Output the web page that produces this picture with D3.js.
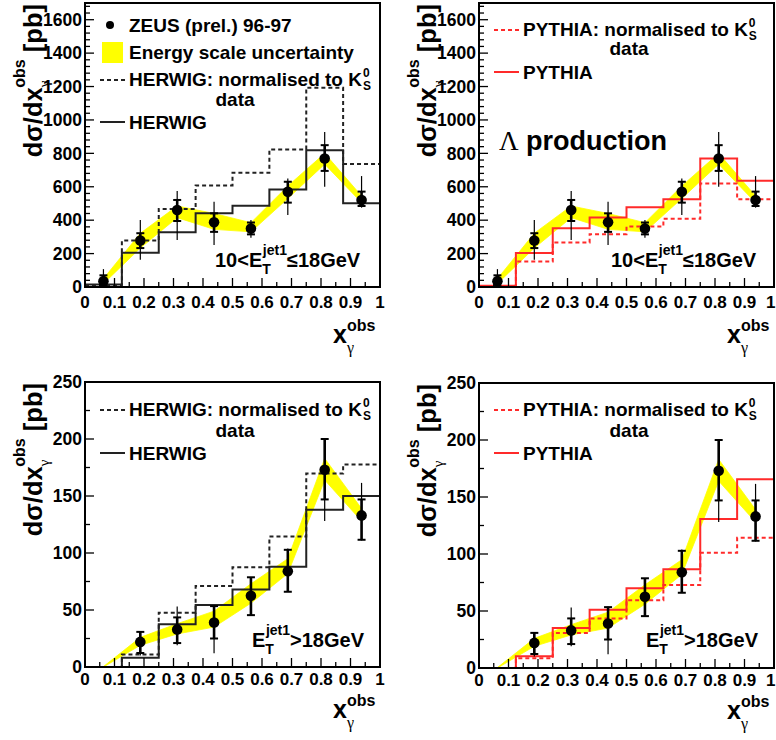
<!DOCTYPE html>
<html><head><meta charset="utf-8">
<script src="https://cdn.jsdelivr.net/npm/d3@7"></script>
<style>
body{margin:0;background:#fff}
text{font-family:"Liberation Sans",Arial,Helvetica,sans-serif;font-weight:bold;fill:#000}
.greek{font-family:"Liberation Serif","DejaVu Serif",serif;font-weight:normal}
</style>
</head><body>
<svg id="c" width="776" height="740" xmlns="http://www.w3.org/2000/svg"></svg>
<script>
// ---------- data ----------
const binEdges = [0, 0.125, 0.25, 0.375, 0.5, 0.625, 0.75, 0.875, 1];
const binCenters = [0.0625, 0.1875, 0.3125, 0.4375, 0.5625, 0.6875, 0.8125, 0.9375];
const xTickValues = [0, 0.1, 0.2, 0.3, 0.4, 0.5, 0.6, 0.7, 0.8, 0.9, 1];
const xTickLabels = ["0", "0.1", "0.2", "0.3", "0.4", "0.5", "0.6", "0.7", "0.8", "0.9", "1"];
const yTicksLowEt = [0, 200, 400, 600, 800, 1000, 1200, 1400, 1600];
const yTicksHighEt = [0, 50, 100, 150, 200, 250];

// 10 < ET(jet1) <= 18 GeV
const zeusLowEt        = [35, 278, 461, 388, 350, 570, 769, 521];
const zeusLowEtStatLo  = [5, 233, 395, 330, 315, 505, 695, 485];
const zeusLowEtStatHi  = [70, 322, 521, 441, 386, 630, 849, 571];
const zeusLowEtTotLo   = [0, 163, 282, 252, 295, 431, 600, 475];
const zeusLowEtTotHi   = [107, 401, 575, 511, 401, 650, 928, 664];
const bandLowEtLo      = [20, 233, 415, 345, 330, 530, 735, 505];
const bandLowEtHi      = [50, 322, 485, 440, 385, 605, 800, 545];
const herwigLowEt      = [15, 205, 328, 441, 487, 584, 819, 501];
const herwigNormLowEt  = [10, 278, 467, 608, 684, 823, 1193, 736];
const pythiaLowEt      = [8, 203, 352, 416, 477, 525, 769, 636];
const pythiaNormLowEt  = [5, 153, 266, 316, 362, 408, 620, 525];

// ET(jet1) > 18 GeV
const zeusHighEt       = [null, 22, 33, 39, 62.5, 84, 173, 133];
const zeusHighEtStatLo = [null, 12.3, 21, 25, 45.5, 66, 147, 111.6];
const zeusHighEtStatHi = [null, 30.8, 43.5, 53.4, 78.7, 102.8, 200, 147];
const zeusHighEtTotLo  = [null, 10, 19, 12, 45.5, 66, 128, 111];
const zeusHighEtTotHi  = [null, 31, 53, 54, 79, 104, 200, 161.5];
const bandHighEtLo     = [0, 19, 29, 35, 56, 82, 164, 128];
const bandHighEtHi     = [0.4, 26, 38, 49, 73, 95, 183, 139];
const herwigHighEt     = [0, 8.2, 37.6, 54.3, 68, 88, 138, 150];
const herwigNormHighEt = [0, 11, 47.6, 71, 87.5, 114.5, 169.7, 177.6];
const pythiaHighEt     = [0, 10.3, 35, 51, 70, 86.7, 130.7, 165.6];
const pythiaNormHighEt = [0, 8.5, 30.8, 43.4, 59.5, 72.7, 101, 114.3];

// ---------- drawing ----------
const svg = d3.select("#c");
svg.append("rect").attr("width", 776).attr("height", 740).attr("fill", "#fff");
const RED = "#ff2a2a", DARK = "#222";

function kLabel(g, x, y, prefix, size) {
  const t = g.append("text").attr("x", x).attr("y", y).style("font-size", size + "px").text(prefix);
  const w = t.node().getComputedTextLength();
  g.append("text").attr("x", x + w + 1).attr("y", y - 9).style("font-size", "12px").text("0");
  g.append("text").attr("x", x + w + 1).attr("y", y + 4).style("font-size", "12px").text("S");
}

function drawPanel(p) {
  const [L, T, R, B] = p.frame;
  const x = d3.scaleLinear().domain([0, 1]).range([L, R]);
  const y = d3.scaleLinear().domain([0, p.yMax]).range([B, T]);
  const g = svg.append("g");
  const clipId = "clip" + p.id;
  g.append("clipPath").attr("id", clipId).append("rect")
    .attr("x", L).attr("y", T).attr("width", R - L).attr("height", B - T);
  const plot = g.append("g").attr("clip-path", `url(#${clipId})`);

  // energy scale band
  const area = d3.area().x((d, i) => x(binCenters[i])).y0((d, i) => y(p.bandLo[i])).y1((d, i) => y(p.bandHi[i]));
  plot.append("path").datum(p.bandLo).attr("d", area).attr("fill", "#ffff00").attr("stroke", "#ffff00").attr("stroke-width", 0.8);

  // histograms
  const histLine = d3.line().x(d => x(d[0])).y(d => y(d[1])).curve(d3.curveStepAfter);
  const histPts = vals => binEdges.map((e, i) => [e, vals[Math.min(i, vals.length - 1)]]);
  plot.append("path").datum(histPts(p.mcNorm)).attr("d", histLine).attr("fill", "none")
    .attr("stroke", p.mcColor).attr("stroke-width", 2).attr("stroke-dasharray", "4,3");
  plot.append("path").datum(histPts(p.mc)).attr("d", histLine).attr("fill", "none")
    .attr("stroke", p.mcColor).attr("stroke-width", 2);

  // data points with errors
  p.data.forEach((v, i) => {
    if (v === null) return;
    const cx = x(binCenters[i]);
    plot.append("line").attr("x1", cx).attr("x2", cx).attr("y1", y(p.totLo[i])).attr("y2", y(p.totHi[i]))
      .attr("stroke", "#000").attr("stroke-width", 1.2);
    plot.append("line").attr("x1", cx).attr("x2", cx).attr("y1", y(p.statLo[i])).attr("y2", y(p.statHi[i]))
      .attr("stroke", "#000").attr("stroke-width", 2.6);
    [p.statLo[i], p.statHi[i]].forEach(s => {
      plot.append("line").attr("x1", cx - 4).attr("x2", cx + 4).attr("y1", y(s)).attr("y2", y(s))
        .attr("stroke", "#000").attr("stroke-width", 2);
    });
    plot.append("circle").attr("cx", cx).attr("cy", y(v)).attr("r", 5.3).attr("fill", "#000");
  });

  // frame
  g.append("rect").attr("x", L).attr("y", T).attr("width", R - L).attr("height", B - T)
    .attr("fill", "none").attr("stroke", "#000").attr("stroke-width", 2);

  // y ticks
  d3.range(0, p.yMax + 1e-6, p.yMinor).forEach(v => {
    const major = p.yTicks.some(t => Math.abs(t - v) < 1e-6);
    g.append("line").attr("x1", L).attr("x2", L + (major ? 9 : 5)).attr("y1", y(v)).attr("y2", y(v))
      .attr("stroke", "#000").attr("stroke-width", 1.3);
  });
  p.yTicks.forEach(v => {
    g.append("text").attr("x", L - 3).attr("y", y(v)).attr("dy", "0.36em").attr("text-anchor", "end")
      .style("font-size", "17.5px").text(v);
  });
  // x ticks
  d3.range(0, 1.0001, 0.05).forEach(v => {
    const major = xTickValues.some(t => Math.abs(t - v) < 1e-6);
    g.append("line").attr("x1", x(v)).attr("x2", x(v)).attr("y1", B).attr("y2", B - (major ? 9 : 5))
      .attr("stroke", "#000").attr("stroke-width", 1.3);
  });
  xTickValues.forEach((v, i) => {
    const t = g.append("text").attr("x", x(v)).attr("y", B + p.xLabelOff).attr("text-anchor", "middle")
      .style("font-size", "17px").text(xTickLabels[i]);
    const bb = t.node().getBBox();
    if (bb.x + bb.width > 775.5) t.attr("x", x(v) - (bb.x + bb.width - 775.5));
  });

  // axis titles
  const xt = g.append("text").attr("x", L + 248).attr("y", B + p.xTitleOff).style("font-size", "25px");
  xt.append("tspan").text("x");
  xt.append("tspan").attr("class", "greek").attr("dy", 10).style("font-size", "16px").text("γ");
  xt.append("tspan").attr("dx", -7).attr("dy", -22).style("font-size", "16px").text("obs");

  const yt = g.append("text").attr("transform", `translate(${L - 43},${T + 1}) rotate(-90)`)
    .attr("text-anchor", "end").style("font-size", "25.5px");
  yt.append("tspan").text("dσ/dx");
  yt.append("tspan").attr("class", "greek").attr("dy", 7).style("font-size", "15px").text("γ");
  yt.append("tspan").attr("dx", -7).attr("dy", -24).style("font-size", "16px").text("obs");
  yt.append("tspan").attr("dy", 17).text(" [pb]");

  // legend
  const lg = g.append("g");
  const lx1 = L + 15, lx2 = L + 40, tx = L + 44;
  if (p.showZeus) {
    lg.append("circle").attr("cx", L + 25).attr("cy", T + 22).attr("r", 4).attr("fill", "#000");
    lg.append("text").attr("x", tx).attr("y", T + 29).style("font-size", "19px").text("ZEUS (prel.) 96-97");
    lg.append("rect").attr("x", L + 17).attr("y", T + 39).attr("width", 21).attr("height", 21).attr("fill", "#ffff00");
    lg.append("text").attr("x", tx).attr("y", T + 56).style("font-size", "19px").text("Energy scale uncertainty");
  }
  const r0 = p.legendTop;
  lg.append("line").attr("x1", lx1).attr("x2", lx2).attr("y1", r0 - 6).attr("y2", r0 - 6)
    .attr("stroke", p.mcColor).attr("stroke-width", 2).attr("stroke-dasharray", "4,3");
  kLabel(lg, tx, r0, p.mcName + ": normalised to K", 19);
  lg.append("text").attr("x", L + 150).attr("y", r0 + p.dataGap).attr("text-anchor", "middle")
    .style("font-size", "19px").text("data");
  lg.append("line").attr("x1", lx1).attr("x2", lx2).attr("y1", r0 + p.solidGap - 7).attr("y2", r0 + p.solidGap - 7)
    .attr("stroke", p.mcColor).attr("stroke-width", 2);
  lg.append("text").attr("x", tx).attr("y", r0 + p.solidGap).style("font-size", "19px").text(p.mcName);

  // ET label
  const et = g.append("text").attr("x", p.etX).attr("y", p.etY).style("font-size", "20px");
  if (p.lowEt) et.append("tspan").text("10<E");
  else et.append("tspan").text("E");
  et.append("tspan").attr("dy", 7).style("font-size", "14px").text("T");
  et.append("tspan").attr("dx", -8).attr("dy", -19).style("font-size", "14px").text("jet1");
  et.append("tspan").attr("dy", 12).text(p.lowEt ? "≤18GeV" : ">18GeV");

  if (p.lambda) {
    const lt = g.append("text").attr("x", L + 20).attr("y", T + 147).style("font-size", "27px");
    lt.append("tspan").attr("class", "greek").text("Λ");
    lt.append("tspan").text(" production");
  }
}

const panels = [
  {id: 1, frame: [85, 3, 380, 287], yMax: 1700, yTicks: yTicksLowEt, yMinor: 40,
   data: zeusLowEt, statLo: zeusLowEtStatLo, statHi: zeusLowEtStatHi, totLo: zeusLowEtTotLo, totHi: zeusLowEtTotHi,
   bandLo: bandLowEtLo, bandHi: bandLowEtHi, mc: herwigLowEt, mcNorm: herwigNormLowEt, mcColor: DARK, mcName: "HERWIG",
   showZeus: true, legendTop: 86, dataGap: 20, solidGap: 43, xLabelOff: 21, xTitleOff: 56,
   etX: 215, etY: 267, lowEt: true},
  {id: 2, frame: [479, 3, 774, 287], yMax: 1700, yTicks: yTicksLowEt, yMinor: 40,
   data: zeusLowEt, statLo: zeusLowEtStatLo, statHi: zeusLowEtStatHi, totLo: zeusLowEtTotLo, totHi: zeusLowEtTotHi,
   bandLo: bandLowEtLo, bandHi: bandLowEtHi, mc: pythiaLowEt, mcNorm: pythiaNormLowEt, mcColor: RED, mcName: "PYTHIA",
   showZeus: false, legendTop: 36, dataGap: 19, solidGap: 43, xLabelOff: 21, xTitleOff: 56,
   etX: 611, etY: 267, lowEt: true, lambda: true},
  {id: 3, frame: [85, 382, 380, 667], yMax: 250, yTicks: yTicksHighEt, yMinor: 25,
   data: zeusHighEt, statLo: zeusHighEtStatLo, statHi: zeusHighEtStatHi, totLo: zeusHighEtTotLo, totHi: zeusHighEtTotHi,
   bandLo: bandHighEtLo, bandHi: bandHighEtHi, mc: herwigHighEt, mcNorm: herwigNormHighEt, mcColor: DARK, mcName: "HERWIG",
   showZeus: false, legendTop: 416, dataGap: 21, solidGap: 44, xLabelOff: 18, xTitleOff: 51,
   etX: 252, etY: 647, lowEt: false},
  {id: 4, frame: [479, 383, 774, 668], yMax: 250, yTicks: yTicksHighEt, yMinor: 25,
   data: zeusHighEt, statLo: zeusHighEtStatLo, statHi: zeusHighEtStatHi, totLo: zeusHighEtTotLo, totHi: zeusHighEtTotHi,
   bandLo: bandHighEtLo, bandHi: bandHighEtHi, mc: pythiaHighEt, mcNorm: pythiaNormHighEt, mcColor: RED, mcName: "PYTHIA",
   showZeus: false, legendTop: 416, dataGap: 21, solidGap: 44, xLabelOff: 18, xTitleOff: 51,
   etX: 646, etY: 647, lowEt: false}
];
panels.forEach(drawPanel);
</script>
</body></html>
